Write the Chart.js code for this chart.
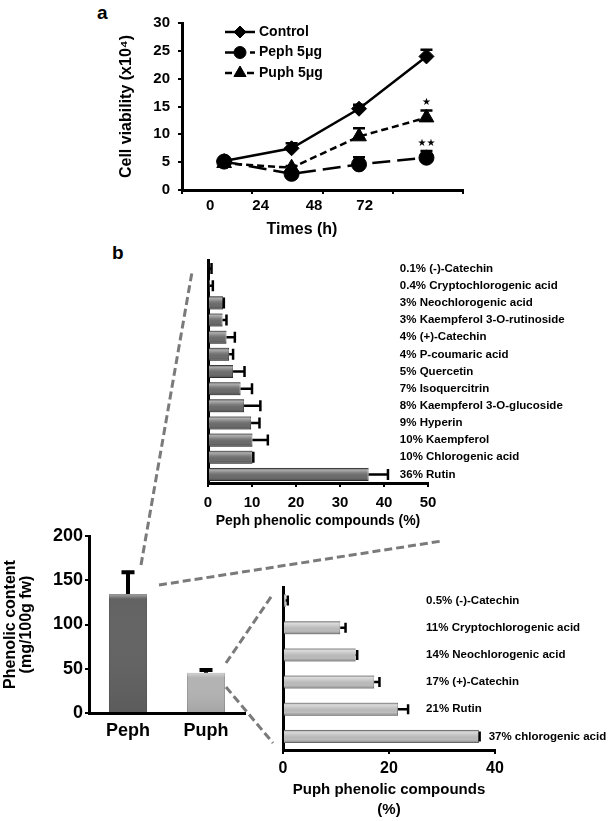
<!DOCTYPE html>
<html>
<head>
<meta charset="utf-8">
<script src="https://cdn.jsdelivr.net/npm/chart.js@4.4.1/dist/chart.umd.min.js"></script>
<style>
body{margin:0;background:#fff;}
#fig{position:relative;width:615px;height:821px;overflow:hidden;font-family:Arial,"Liberation Sans",sans-serif;}
#fig canvas{position:absolute;}
#links{position:absolute;left:0;top:0;}
.panel{position:absolute;font-weight:bold;font-size:19px;}
</style>
</head>
<body>
<div id="fig">
<svg id="links" width="615" height="821">
  <g stroke="#7a7a7a" stroke-width="3" stroke-dasharray="8 4" fill="none">
    <line x1="141" y1="565" x2="192" y2="272"/>
    <line x1="159" y1="585" x2="442" y2="541"/>
    <line x1="226" y1="663" x2="273" y2="594"/>
    <line x1="226" y1="687" x2="273" y2="743"/>
  </g>
</svg>
<div class="panel" style="left:97px;top:2px">a</div>
<div class="panel" style="left:112px;top:242px">b</div>
<canvas id="viab" width="480" height="250" style="left:0;top:0"></canvas>
<canvas id="pephPct" width="420" height="290" style="left:190px;top:250px"></canvas>
<canvas id="total" width="260" height="260" style="left:0;top:520px"></canvas>
<canvas id="puphPct" width="350" height="241" style="left:265px;top:580px"></canvas>
</div>
<script>
// ---- panel a: cell viability (x10^4)
const times = [0, 24, 48, 72];
const timeTicks = ['0', '24', '48', '72'];
const control = [5.2, 7.5, 14.6, 24.0];
const controlErr = [0.3, 0.9, 0.7, 1.2];
const peph5 = [5.1, 2.9, 4.6, 5.8];
const peph5Err = [0.3, 0.3, 1.3, 1.2];
const puph5 = [4.8, 4.0, 9.6, 13.0];
const puph5Err = [0.3, 0.3, 1.5, 1.3];
const peph5Sig = ['', '', '', '★★'];
const puph5Sig = ['', '', '', '★'];

// ---- panel b: total phenolic content (mg/100g fw)
const groups = ['Peph', 'Puph'];
const phenolic = [134.5, 45.5];
const phenolicErr = [24.5, 3];

// ---- panel b: phenolic compounds (%)
const pephCompounds = ['0.1% (-)-Catechin', '0.4% Cryptochlorogenic acid', '3% Neochlorogenic acid',
  '3% Kaempferol 3-O-rutinoside', '4% (+)-Catechin', '4% P-coumaric acid', '5% Quercetin',
  '7% Isoquercitrin', '8% Kaempferol 3-O-glucoside', '9% Hyperin', '10% Kaempferol',
  '10% Chlorogenic acid', '36% Rutin'];
const pephPct = [0.2, 0.4, 3.4, 3.3, 4.2, 4.8, 5.7, 7.4, 8.2, 9.8, 10.1, 10.1, 36.5];
const pephPctErr = [0.6, 0.7, 0.2, 0.9, 1.9, 0.9, 2.6, 2.6, 3.7, 1.9, 3.5, 0.2, 4.4];

const puphCompounds = ['0.5% (-)-Catechin', '11% Cryptochlorogenic acid', '14% Neochlorogenic acid',
  '17% (+)-Catechin', '21% Rutin', '37% chlorogenic acid'];
const puphPct = [0.5, 10.8, 13.7, 17.2, 21.7, 37.0];
const puphPctErr = [0.4, 1.0, 0.3, 1.0, 1.9, 0.1];

const FONT = 'Arial, "Liberation Sans", sans-serif';
Chart.defaults.font.family = FONT;
Chart.defaults.font.weight = 'bold';
Chart.defaults.color = '#000';

// error bars, one side only (value -> value + err)
const errorBars = {
  id: 'errorBars',
  afterDatasetsDraw(chart, args, o) {
    const ctx = chart.ctx;
    const horiz = chart.options.indexAxis === 'y';
    const vs = horiz ? chart.scales.x : chart.scales.y;
    chart.data.datasets.forEach((ds, i) => {
      if (!ds.errors) return;
      const pts = chart.getDatasetMeta(i).data;
      ctx.save();
      ctx.strokeStyle = '#000';
      ctx.lineWidth = o.width;
      pts.forEach((el, j) => {
        const v = typeof ds.data[j] === 'object' ? ds.data[j].y : ds.data[j];
        const a = vs.getPixelForValue(v);
        const b = vs.getPixelForValue(v + ds.errors[j]);
        const c = o.cap / 2;
        ctx.beginPath();
        if (horiz) {
          ctx.moveTo(a, el.y); ctx.lineTo(b, el.y);
          ctx.moveTo(b, el.y - c); ctx.lineTo(b, el.y + c);
        } else {
          ctx.moveTo(el.x, a); ctx.lineTo(el.x, b);
          ctx.moveTo(el.x - c, b); ctx.lineTo(el.x + c, b);
        }
        ctx.stroke();
      });
      ctx.restore();
    });
  }
};

// stars above error bars
const sigStars = {
  id: 'sigStars',
  afterDatasetsDraw(chart) {
    const ctx = chart.ctx, ys = chart.scales.y;
    ctx.save();
    ctx.font = '10px "DejaVu Sans"';
    ctx.textAlign = 'center';
    ctx.textBaseline = 'middle';
    ctx.fillStyle = '#000';
    chart.data.datasets.forEach((ds, i) => {
      if (!ds.sig) return;
      chart.getDatasetMeta(i).data.forEach((el, j) => {
        if (!ds.sig[j]) return;
        const top = ys.getPixelForValue(ds.data[j].y + ds.errors[j]);
        ctx.fillText(ds.sig[j], el.x, top - 8);
      });
    });
    ctx.restore();
  }
};

// legend: line sample + marker + text
const lineLegend = {
  id: 'lineLegend',
  afterDraw(chart, args, o) {
    const ctx = chart.ctx;
    chart.data.datasets.forEach((ds, i) => {
      const y = o.y + i * o.gap;
      ctx.save();
      ctx.strokeStyle = '#000';
      ctx.fillStyle = '#000';
      ctx.lineWidth = ds.borderWidth;
      ctx.setLineDash(ds.borderDash || []);
      ctx.beginPath();
      ctx.moveTo(o.x, y);
      ctx.lineTo(o.x + o.len, y);
      ctx.stroke();
      ctx.setLineDash([]);
      ctx.lineWidth = 1;
      Chart.helpers.drawPoint(ctx, {pointStyle: ds.pointStyle, radius: ds.pointRadius - 1.5, borderWidth: 1, rotation: 0}, o.x + o.len / 2, y);
      ctx.font = 'bold 14px ' + FONT;
      ctx.textBaseline = 'middle';
      ctx.fillText(ds.label, o.textX, y);
      ctx.restore();
    });
  }
};

// hand placed time labels and axis title of panel a
const timeLabels = {
  id: 'timeLabels',
  afterDraw(chart, args, o) {
    const ctx = chart.ctx, xs = chart.scales.x;
    ctx.save();
    ctx.fillStyle = '#000';
    ctx.textAlign = 'center';
    ctx.textBaseline = 'middle';
    ctx.font = 'bold 15px ' + FONT;
    o.labels.forEach((t, i) => ctx.fillText(t, xs.getPixelForValue(o.at[i]), o.y));
    ctx.font = 'bold 16px ' + FONT;
    ctx.fillText(o.title, xs.getPixelForValue(o.titleAt), o.titleY);
    ctx.restore();
  }
};

// compound names written to the right of the bars
const sideLabels = {
  id: 'sideLabels',
  afterDraw(chart, args, o) {
    const ctx = chart.ctx, xs = chart.scales.x;
    const ds = chart.data.datasets[0];
    ctx.save();
    ctx.fillStyle = '#000';
    ctx.font = 'bold 11.5px ' + FONT;
    ctx.textBaseline = 'middle';
    chart.getDatasetMeta(0).data.forEach((el, i) => {
      const end = xs.getPixelForValue(ds.data[i] + ds.errors[i]) + o.gap;
      ctx.fillText(chart.data.labels[i], Math.max(xs.getPixelForValue(o.at), end), el.y);
    });
    ctx.restore();
  }
};

// glossy look of the bars
const barSheen = {
  id: 'barSheen',
  afterDatasetDraw(chart, args) {
    const ctx = chart.ctx;
    const horiz = chart.options.indexAxis === 'y';
    args.meta.data.forEach(el => {
      const p = el.getProps(['x', 'y', 'base', 'width', 'height'], true);
      let x0, y0, w, h, g;
      if (horiz) {
        x0 = Math.min(p.base, p.x); w = Math.abs(p.x - p.base);
        y0 = p.y - p.height / 2; h = p.height;
        g = ctx.createLinearGradient(0, y0, 0, y0 + h);
        g.addColorStop(0, 'rgba(0,0,0,0.25)');
        g.addColorStop(0.15, 'rgba(255,255,255,0.45)');
        g.addColorStop(0.4, 'rgba(255,255,255,0.12)');
        g.addColorStop(0.75, 'rgba(0,0,0,0)');
        g.addColorStop(1, 'rgba(0,0,0,0.3)');
      } else {
        x0 = p.x - p.width / 2; w = p.width;
        y0 = Math.min(p.y, p.base); h = Math.abs(p.base - p.y);
        g = ctx.createLinearGradient(0, y0, 0, y0 + h);
        g.addColorStop(0, 'rgba(255,255,255,0.45)');
        g.addColorStop(Math.min(1, 5 / h), 'rgba(255,255,255,0)');
        g.addColorStop(1, 'rgba(0,0,0,0.08)');
      }
      ctx.save();
      ctx.fillStyle = g;
      ctx.fillRect(x0, y0, w, h);
      ctx.restore();
    });
  }
};

const tickGrid = {drawOnChartArea: false, drawTicks: true, tickLength: 4, color: '#000', lineWidth: 2};
const axisLine = {color: '#000', width: 3};

function series(label, ys, errs, sig, style, radius, dash) {
  return {
    label: label,
    data: times.map((t, i) => ({x: t, y: ys[i]})),
    errors: errs,
    sig: sig,
    borderColor: '#000',
    backgroundColor: '#000',
    borderWidth: 2.5,
    borderDash: dash,
    pointStyle: style,
    pointRadius: radius,
    pointBorderWidth: 1,
    tension: 0
  };
}

new Chart(document.getElementById('viab'), {
  type: 'line',
  data: {
    datasets: [
      series('Control', control, controlErr, null, 'rectRot', 7.5, []),
      series('Peph 5μg', peph5, peph5Err, peph5Sig, 'circle', 7.5, [18, 7]),
      series('Puph 5μg', puph5, puph5Err, puph5Sig, 'triangle', 8.5, [7, 4])
    ]
  },
  options: {
    responsive: false,
    animation: false,
    layout: {padding: {left: 100, top: 23, right: 17, bottom: 0}},
    plugins: {
      legend: {display: false},
      tooltip: {enabled: false},
      errorBars: {width: 2.5, cap: 12},
      lineLegend: {x: 225, len: 30, textX: 259, y: 32, gap: 20.5},
      timeLabels: {labels: timeTicks, at: [-5, 13, 32, 50], y: 206, title: 'Times (h)', titleAt: 27.7, titleY: 230}
    },
    scales: {
      x: {
        type: 'linear', min: -15, max: 85,
        afterBuildTicks: s => {
          const t = [];
          for (let v = s.min; v <= s.max; v += 25) t.push({value: v});
          s.ticks = t;
        },
        ticks: {callback: () => ''},
        grid: tickGrid,
        border: axisLine,
        afterFit: s => { s.height = 60; }
      },
      y: {
        min: 0, max: 30,
        ticks: {stepSize: 5, padding: 8, font: {size: 15, weight: 'bold'}},
        grid: tickGrid,
        border: axisLine,
        title: {display: true, text: 'Cell viability (x10⁴)', font: {size: 16, weight: 'bold'}, padding: {top: 17, bottom: 0}},
        afterFit: s => { s.width = 82; }
      }
    }
  },
  plugins: [errorBars, sigStars, lineLegend, timeLabels]
});

new Chart(document.getElementById('pephPct'), {
  type: 'bar',
  data: {
    labels: pephCompounds,
    datasets: [{
      data: pephPct, errors: pephPctErr,
      backgroundColor: '#6c6c6c', borderColor: '#3c3c3c', borderWidth: 1,
      categoryPercentage: 1, barPercentage: 0.76
    }]
  },
  options: {
    indexAxis: 'y',
    responsive: false,
    animation: false,
    layout: {padding: {left: 0, top: 10, right: 182, bottom: 0}},
    plugins: {
      legend: {display: false},
      tooltip: {enabled: false},
      errorBars: {width: 2.5, cap: 11},
      sideLabels: {at: 43.6, gap: 9}
    },
    scales: {
      x: {
        min: 0, max: 50,
        ticks: {stepSize: 10, padding: 7, font: {size: 15, weight: 'bold'}},
        grid: tickGrid,
        border: axisLine,
        title: {display: true, text: 'Peph phenolic compounds (%)', font: {size: 14, weight: 'bold'}, padding: {top: 0, bottom: 10.6}},
        afterFit: s => { s.height = 57; }
      },
      y: {
        ticks: {display: false},
        grid: {display: false, drawTicks: false},
        border: axisLine,
        afterFit: s => { s.width = 18; }
      }
    }
  },
  plugins: [barSheen, errorBars, sideLabels]
});

new Chart(document.getElementById('total'), {
  type: 'bar',
  data: {
    labels: groups,
    datasets: [{
      data: phenolic, errors: phenolicErr,
      backgroundColor: ['#636363', '#b3b3b3'], borderColor: ['#474747', '#8c8c8c'], borderWidth: 1,
      categoryPercentage: 1, barPercentage: 0.49
    }]
  },
  options: {
    responsive: false,
    animation: false,
    layout: {padding: {left: 0, top: 16, right: 15, bottom: 0}},
    plugins: {
      legend: {display: false},
      tooltip: {enabled: false},
      errorBars: {width: 4, cap: 13}
    },
    scales: {
      x: {
        ticks: {padding: 7, font: {size: 18, weight: 'bold'}},
        grid: {display: false, drawTicks: false},
        border: axisLine,
        afterFit: s => { s.height = 67; }
      },
      y: {
        min: 0, max: 200,
        ticks: {stepSize: 50, padding: 2, font: {size: 18, weight: 'bold'}},
        grid: tickGrid,
        border: axisLine,
        title: {display: true, text: ['Phenolic content', '(mg/100g fw)'], font: {size: 16, weight: 'bold', lineHeight: 1}, padding: {top: 3, bottom: 0}},
        afterFit: s => { s.width = 89; }
      }
    }
  },
  plugins: [barSheen, errorBars]
});

new Chart(document.getElementById('puphPct'), {
  type: 'bar',
  data: {
    labels: puphCompounds,
    datasets: [{
      data: puphPct, errors: puphPctErr,
      backgroundColor: '#bdbdbd', borderColor: '#8a8a8a', borderWidth: 1,
      categoryPercentage: 1, barPercentage: 0.48
    }]
  },
  options: {
    indexAxis: 'y',
    responsive: false,
    animation: false,
    layout: {padding: {left: 0, top: 7, right: 120, bottom: 0}},
    plugins: {
      legend: {display: false},
      tooltip: {enabled: false},
      errorBars: {width: 2.5, cap: 10},
      sideLabels: {at: 27, gap: 9}
    },
    scales: {
      x: {
        min: 0, max: 40,
        ticks: {stepSize: 20, padding: 5, font: {size: 16, weight: 'bold'}},
        grid: tickGrid,
        border: axisLine,
        title: {display: true, text: ['Puph phenolic compounds', '(%)'], font: {size: 15, weight: 'bold', lineHeight: 1.3333}, padding: {top: 0, bottom: 1}},
        afterFit: s => { s.height = 71; }
      },
      y: {
        ticks: {display: false},
        grid: {display: false, drawTicks: false},
        border: axisLine,
        afterFit: s => { s.width = 18; }
      }
    }
  },
  plugins: [barSheen, errorBars, sideLabels]
});
</script>
</body>
</html>
